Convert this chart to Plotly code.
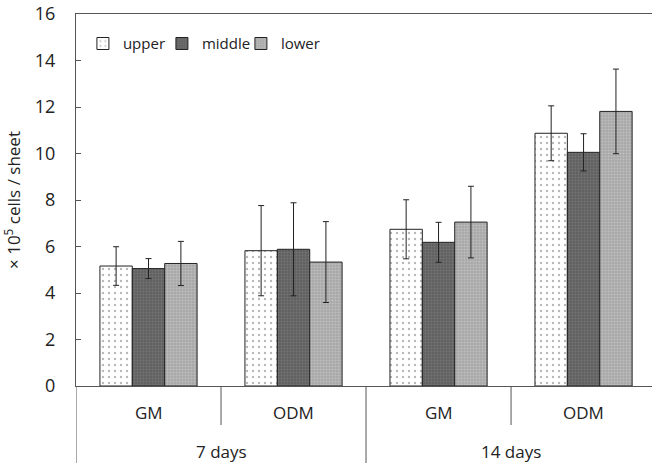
import plotly.graph_objects as go

days = ["7 days", "7 days", "14 days", "14 days"]
media = ["GM", "ODM", "GM", "ODM"]
series_names = ["upper", "middle", "lower"]
upper = [5.16, 5.82, 6.74, 10.87]
upper_err = [0.83, 1.94, 1.27, 1.18]
middle = [5.05, 5.88, 6.18, 10.05]
middle_err = [0.43, 2.0, 0.86, 0.80]
lower = [5.27, 5.33, 7.05, 11.81]
lower_err = [0.95, 1.74, 1.54, 1.82]
y_ticks = [0, 2, 4, 6, 8, 10, 12, 14, 16]

FONT = "Open Sans"
FS = 17
xpos = list(range(len(media)))

styles = {
    "upper": dict(bg="#ffffff", fg="#707070", size=6, solidity=0.12),
    "middle": dict(bg="#606060", fg="#8a8a8a", size=3, solidity=0.35),
    "lower": dict(bg="#a8a8a8", fg="#d8d8d8", size=3, solidity=0.35),
}

fig = go.Figure()
for name, vals, errs in [("upper", upper, upper_err), ("middle", middle, middle_err), ("lower", lower, lower_err)]:
    s = styles[name]
    fig.add_trace(go.Bar(
        x=xpos, y=vals, name=name,
        marker=dict(color=s["bg"], line=dict(color="#222222", width=1),
                    pattern=dict(shape=".", fgcolor=s["fg"], bgcolor=s["bg"],
                                 size=s["size"], solidity=s["solidity"], fillmode="overlay")),
        error_y=dict(type="data", array=errs, color="#222222", thickness=1, width=3),
    ))

fig.update_layout(
    width=652, height=464,
    margin=dict(l=76, r=0, t=14, b=78),
    paper_bgcolor="white", plot_bgcolor="white",
    barmode="group", bargap=0.33, bargroupgap=0,
    font=dict(family=FONT, size=FS, color="#222222"),
    showlegend=True,
    legend=dict(orientation="h", x=0.012, y=0.92, xanchor="left", yanchor="middle",
                font=dict(family=FONT, size=15, color="#222222"),
                bgcolor="rgba(0,0,0,0)", itemwidth=30, tracegroupgap=0,
                entrywidth=34, entrywidthmode="pixels"),
)
fig.update_xaxes(range=[-0.5, 3.472], showticklabels=False, ticks="",
                 showline=True, linecolor="#555555", linewidth=1, mirror=True,
                 showgrid=False, zeroline=False)
fig.update_yaxes(range=[0, 16], tickvals=y_ticks, ticks="inside", ticklen=5,
                 tickcolor="#555555", showline=True, linecolor="#555555", linewidth=1,
                 showgrid=False, zeroline=False, tickfont=dict(size=FS + 1, family=FONT),
                 ticklabelstandoff=16,
                 title=dict(text="× 10<sup>5</sup> cells / sheet", font=dict(size=FS, family=FONT), standoff=12))

# category labels
for i, m in enumerate(media):
    fig.add_annotation(x=xpos[i], y=-0.072, xref="x", yref="paper", text=m, showarrow=False,
                       font=dict(size=FS, family=FONT), xanchor="center", yanchor="middle")
groups = []
for i, d in enumerate(days):
    if not groups or groups[-1][0] != d:
        groups.append([d, i, i])
    else:
        groups[-1][2] = i
for d, a, b in groups:
    fig.add_annotation(x=(xpos[a] + xpos[b]) / 2, y=-0.175, xref="x", yref="paper", text=d,
                       showarrow=False, font=dict(size=FS, family=FONT), xanchor="center", yanchor="middle")

# dividers
line = dict(color="#555555", width=1)
fig.add_shape(type="line", xref="x", yref="paper", x0=-0.5, x1=-0.5, y0=0, y1=-0.207, line=line)
for i in range(len(media) - 1):
    outer = days[i] != days[i + 1]
    fig.add_shape(type="line", xref="x", yref="paper", x0=i + 0.5, x1=i + 0.5, y0=0,
                  y1=-0.207 if outer else -0.105, line=line)

fig.write_html("out.html")
